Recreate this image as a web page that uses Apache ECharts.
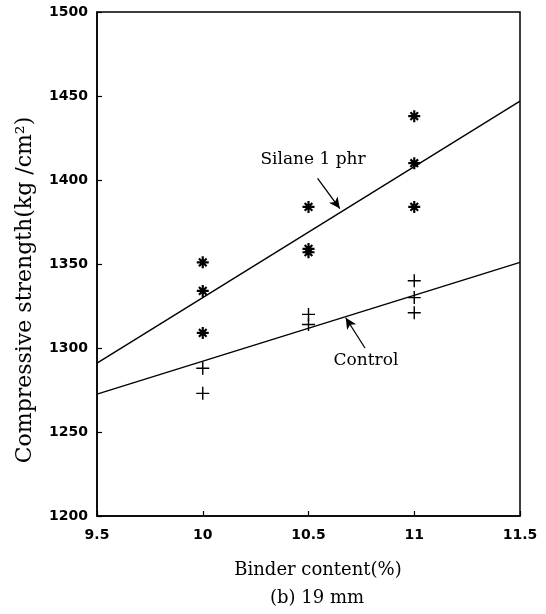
<!DOCTYPE html>
<html><head><meta charset="utf-8">
<script src="https://cdn.jsdelivr.net/npm/echarts@6/dist/echarts.min.js"></script>
<style>html,body{margin:0;padding:0;background:#fff}#c{width:546px;height:614px}</style>
</head><body><div id="c"></div>
<script>
// ---- data ----
const xTickLabels = ['9.5', '10', '10.5', '11', '11.5'];
const yTickLabels = ['1200', '1250', '1300', '1350', '1400', '1450', '1500'];
const silaneX = [10, 10, 10, 10.5, 10.5, 10.5, 11, 11, 11];
const silaneY = [1351, 1334, 1309, 1384, 1359, 1357, 1438, 1410, 1384];
const controlX = [10, 10, 10.5, 10.5, 11, 11, 11];
const controlY = [1288, 1273, 1320, 1314, 1340, 1330, 1321];
const silaneFitX = [9.5, 11.5];
const silaneFitY = [1291, 1447];
const controlFitX = [9.5, 11.5];
const controlFitY = [1272.5, 1351];
const silaneArrowX = [10.543, 10.648];
const silaneArrowY = [1401, 1383];
const controlArrowX = [10.767, 10.676];
const controlArrowY = [1300, 1318];
const labels = {
  yTitle: 'Compressive strength(kg /cm²)',
  xTitle: 'Binder content(%)',
  caption: '(b) 19 mm',
  silane: 'Silane 1 phr',
  control: 'Control'
};

const zip = (xs, ys) => xs.map((x, i) => [x, ys[i]]);
const SERIF = '"DejaVu Serif", "Liberation Serif", serif';
const SANS = '"DejaVu Sans", "Liberation Sans", sans-serif';

const asteriskPath = 'path://M41,0 L59,0 L59,100 L41,100 Z M0,41 L100,41 L100,59 L0,59 Z ' +
  'M24.4,11.7 L88.3,75.6 L75.6,88.3 L11.7,24.4 Z M11.7,75.6 L75.6,11.7 L88.3,24.4 L24.4,88.3 Z';
const plusPath = 'path://M44.5,0 L55.5,0 L55.5,100 L44.5,100 Z M0,44.5 L100,44.5 L100,55.5 L0,55.5 Z';

const chart = echarts.init(document.getElementById('c'), null, {renderer: 'canvas'});
const yMin = +yTickLabels[0], yMax = +yTickLabels[yTickLabels.length - 1];
const xMin = +xTickLabels[0], xMax = +xTickLabels[xTickLabels.length - 1];

chart.setOption({
  animation: false,
  backgroundColor: '#fff',
  grid: {left: 97, right: 26, top: 12, bottom: 98, show: true, borderColor: '#000', borderWidth: 1.5, backgroundColor: 'transparent'},
  xAxis: {
    type: 'value', min: xMin, max: xMax, interval: 0.5,
    axisLine: {show: true, lineStyle: {color: '#000', width: 1.5}},
    axisTick: {show: true, inside: true, length: 5, lineStyle: {color: '#000', width: 1.2}},
    splitLine: {show: false},
    axisLabel: {
      color: '#000', fontFamily: SANS, fontWeight: 'bold', fontSize: 14, margin: 12,
      formatter: v => xTickLabels[Math.round((v - xMin) / 0.5)] || ''
    }
  },
  yAxis: {
    type: 'value', min: yMin, max: yMax, interval: 50,
    axisLine: {show: true, lineStyle: {color: '#000', width: 1.5}},
    axisTick: {show: true, inside: true, length: 5, lineStyle: {color: '#000', width: 1.2}},
    splitLine: {show: false},
    axisLabel: {
      color: '#000', fontFamily: SANS, fontWeight: 'bold', fontSize: 14, margin: 9,
      formatter: v => yTickLabels[Math.round((v - yMin) / 50)] || ''
    }
  },
  series: [
    {
      type: 'line', data: zip(silaneFitX, silaneFitY), symbol: 'none', silent: true,
      lineStyle: {color: '#000', width: 1.4},
      markLine: {
        silent: true, symbol: ['none', 'arrow'], symbolSize: [8, 11],
        label: {show: false},
        lineStyle: {color: '#000', width: 1.3, type: 'solid'},
        data: [[{coord: [silaneArrowX[0], silaneArrowY[0]]}, {coord: [silaneArrowX[1], silaneArrowY[1]]}]]
      }
    },
    {
      type: 'line', data: zip(controlFitX, controlFitY), symbol: 'none', silent: true,
      lineStyle: {color: '#000', width: 1.4},
      markLine: {
        silent: true, symbol: ['none', 'arrow'], symbolSize: [8, 11],
        label: {show: false},
        lineStyle: {color: '#000', width: 1.3, type: 'solid'},
        data: [[{coord: [controlArrowX[0], controlArrowY[0]]}, {coord: [controlArrowX[1], controlArrowY[1]]}]]
      }
    },
    {
      type: 'scatter', data: zip(silaneX, silaneY), symbol: asteriskPath, symbolSize: 12,
      itemStyle: {color: '#000', opacity: 1}
    },
    {
      type: 'scatter', data: zip(controlX, controlY), symbol: plusPath, symbolSize: 13,
      itemStyle: {color: '#000', opacity: 1}
    }
  ],
  graphic: [
    {type: 'text', x: 25, y: 290, rotation: Math.PI / 2,
      style: {text: labels.yTitle, font: '22px ' + SERIF, fill: '#000', align: 'center', verticalAlign: 'middle'}},
    {type: 'text', x: 318, y: 570,
      style: {text: labels.xTitle, font: '18px ' + SERIF, fill: '#000', align: 'center', verticalAlign: 'middle'}},
    {type: 'text', x: 317, y: 598,
      style: {text: labels.caption, font: '18px ' + SERIF, fill: '#000', align: 'center', verticalAlign: 'middle'}},
    {type: 'text', x: 313, y: 160,
      style: {text: labels.silane, font: '17px ' + SERIF, fill: '#000', align: 'center', verticalAlign: 'middle'}},
    {type: 'text', x: 366, y: 361,
      style: {text: labels.control, font: '17px ' + SERIF, fill: '#000', align: 'center', verticalAlign: 'middle'}}
  ]
});
</script>
</body></html>
